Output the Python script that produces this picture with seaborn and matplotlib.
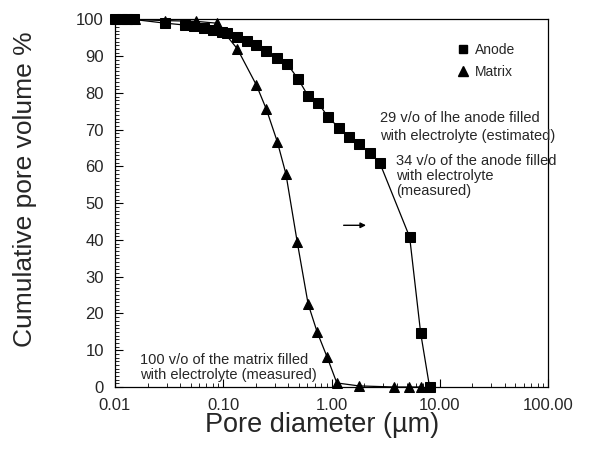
import matplotlib
matplotlib.use("Agg")
import matplotlib.pyplot as plt
from matplotlib.lines import Line2D
from matplotlib.ticker import MultipleLocator
import seaborn as sns
import pandas as pd

# data
anode_d = [0.010, 0.0115, 0.013, 0.015, 0.029, 0.044, 0.054, 0.067, 0.080, 0.097,
           0.109, 0.135, 0.167, 0.202, 0.250, 0.316, 0.390, 0.492, 0.608, 0.752,
           0.929, 1.17, 1.45, 1.79, 2.26, 2.79, 5.27, 6.66, 8.05]
anode_v = [100, 100, 100, 100, 99.0, 98.5, 98.2, 97.7, 97.1, 96.6,
           96.3, 95.2, 94.1, 93.1, 91.4, 89.5, 87.9, 83.8, 79.2, 77.3,
           73.5, 70.5, 68.0, 66.1, 63.7, 61.0, 40.8, 14.7, 0.0]

matrix_d = [0.0105, 0.0129, 0.0153, 0.0288, 0.0556, 0.0867, 0.135, 0.202, 0.250,
            0.316, 0.379, 0.482, 0.608, 0.736, 0.909, 1.12, 1.79, 3.76, 5.17, 6.66]
matrix_v = [100, 100, 100, 99.7, 99.5, 99.0, 92.0, 82.2, 75.6,
            66.7, 58.0, 39.5, 22.6, 15.0, 8.2, 1.1, 0.3, 0.0, 0.0, 0.0]

x_ticks = [0.01, 0.1, 1, 10, 100]
x_labels = ["0.01", "0.10", "1.00", "10.00", "100.00"]

df = pd.concat([
    pd.DataFrame({"d": anode_d, "v": anode_v, "series": "Anode"}),
    pd.DataFrame({"d": matrix_d, "v": matrix_v, "series": "Matrix"}),
])

sns.set_style("ticks")
plt.rcParams["font.family"] = ["Liberation Sans", "DejaVu Sans"]

fig = plt.figure(figsize=(5.94, 4.5), dpi=100)
ax = fig.add_axes([0.1936, 0.14, 0.729, 0.8167])

sns.lineplot(data=df, x="d", y="v", hue="series", style="series",
             markers={"Anode": "s", "Matrix": "^"}, dashes=False,
             palette={"Anode": "black", "Matrix": "black"},
             sort=False, estimator=None, markersize=7, linewidth=0.9,
             markeredgecolor="black", legend=False, ax=ax, clip_on=False)

ax.set_xscale("log")
ax.set_xlim(0.01, 100)
ax.set_ylim(0, 100)
ax.set_xticks(x_ticks)
ax.set_xticklabels(x_labels)
ax.set_yticks(range(0, 101, 10))
ax.yaxis.set_minor_locator(MultipleLocator(1))
ax.tick_params(which="major", direction="in", length=6, width=0.8,
               labelsize=12, pad=8, color="black")
ax.tick_params(which="minor", direction="in", length=3, width=0.6, color="black")
for s in ax.spines.values():
    s.set_visible(True)
    s.set_color("black")
    s.set_linewidth(0.9)

ax.set_xlabel("Pore diameter (\u00b5m)", fontsize=19.5)
ax.set_ylabel("Cumulative pore volume %", fontsize=19)
ax.xaxis.set_label_coords(0.478, -0.068)
ax.yaxis.set_label_coords(-0.18, 0.539)

handles = [Line2D([], [], color="black", marker="s", linestyle="none", markersize=6),
           Line2D([], [], color="black", marker="^", linestyle="none", markersize=7)]
ax.legend(handles, ["Anode", "Matrix"], loc="upper left",
          bbox_to_anchor=(0.755, 0.97), frameon=False, fontsize=10,
          handletextpad=0.3, labelspacing=0.6, handlelength=1.2)

ax.text(2.79, 70.7, "29 v/o of lhe anode filled\nwith electrolyte (estimated)",
        fontsize=10.5, ha="left", va="center", linespacing=1.35)
ax.text(3.92, 57.4, "34 v/o of the anode filled\nwith electrolyte\n(measured)",
        fontsize=10.5, ha="left", va="center", linespacing=1.12)
ax.text(0.017, 5.2, "100 v/o of the matrix filled\nwith electrolyte (measured)",
        fontsize=10.5, ha="left", va="center", linespacing=1.1)
ax.annotate("", xy=(2.21, 44), xytext=(1.22, 44),
            arrowprops=dict(arrowstyle="-|>", color="black", lw=1,
                            mutation_scale=8))

fig.savefig("out.png", dpi=100)
